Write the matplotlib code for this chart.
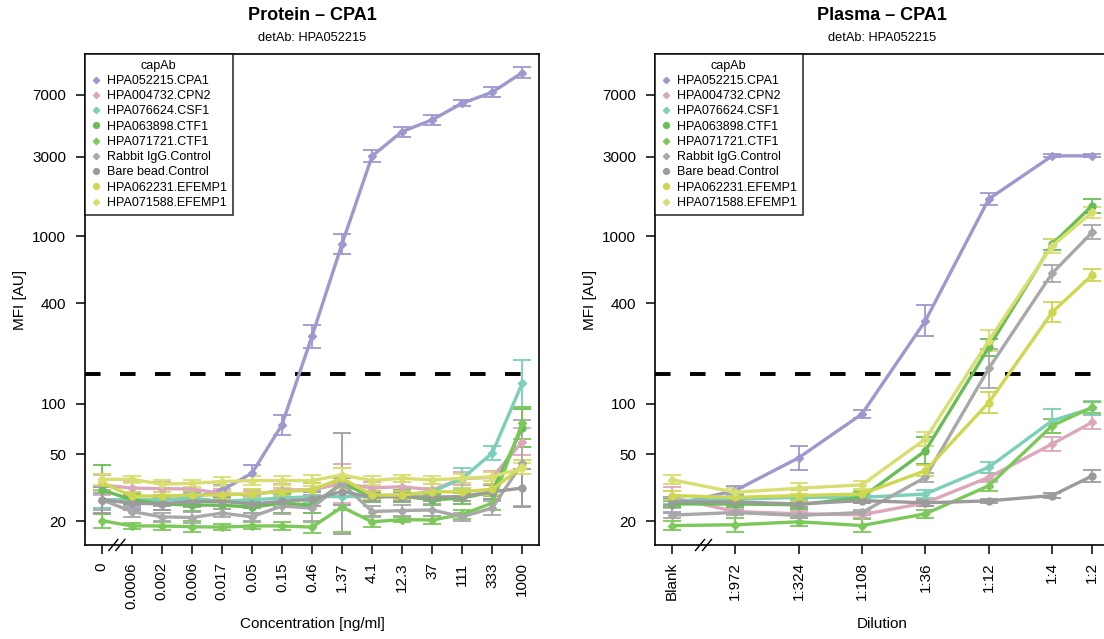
import numpy as np
import matplotlib
matplotlib.use("Agg")
import matplotlib.pyplot as plt
from matplotlib.lines import Line2D

plt.rcParams['font.family'] = ['Liberation Sans', 'DejaVu Sans']

# capture antibodies (legend order), colours and marker shapes
cap_abs = ["HPA052215.CPA1", "HPA004732.CPN2", "HPA076624.CSF1", "HPA063898.CTF1",
           "HPA071721.CTF1", "Rabbit IgG.Control", "Bare bead.Control",
           "HPA062231.EFEMP1", "HPA071588.EFEMP1"]
colors = ["#9d98ce", "#dda7bb", "#7ccfb8", "#68be54", "#7cc85a",
          "#a8a8a8", "#9b9b9b", "#cdd850", "#d8df70"]
markers = ["D", "D", "D", "o", "D", "D", "o", "o", "D"]

# protein dilution series
conc = [0, 0.000627, 0.00188, 0.00565, 0.0169, 0.0508, 0.152, 0.457,
        1.37, 4.12, 12.3, 37.0, 111, 333, 1000]
conc_labels = ["0", "0.0006", "0.002", "0.006", "0.017", "0.05", "0.15", "0.46",
               "1.37", "4.1", "12.3", "37", "111", "333", "1000"]

prot_cpa1 = [26.5, 26, 26.5, 27.5, 30.5, 38.6, 75, 254, 902, 3020, 4230, 4970, 6240, 7260, 9510]
prot_cpn2 = [32.8, 31.5, 31.2, 31.1, 29.2, 28.6, 30.7, 30.7, 33.5, 31.5, 32.1, 30.7, 35.9, 36.4, 59.6]
prot_csf1 = [26.8, 26.8, 26.8, 27.4, 26.2, 26.8, 27.4, 28, 28, 28, 28.6, 29.9, 35.9, 50.8, 133]
prot_ctf1a = [30.7, 26.8, 25.3, 24.9, 24.9, 24.2, 25.6, 24.9, 33.6, 28, 28.2, 26.8, 27.4, 29.9, 72]
prot_ctf1b = [20.1, 18.7, 18.7, 18.5, 18.4, 18.7, 18.7, 18.4, 24.2, 19.8, 20.4, 20.3, 21.9, 25.6, 76.8]
prot_rabbit = [26.8, 22.8, 21.2, 21.0, 22.3, 21.2, 24.6, 23.9, 33.6, 22.8, 23.1, 23.3, 21.2, 23.9, 44.3]
prot_bare = [26.8, 25.6, 25.3, 26.2, 26.2, 25.3, 26.2, 27, 30, 27.8, 28, 27.8, 28, 29.9, 31.5]
prot_ef1 = [34, 28.2, 28.2, 28.6, 28.6, 29.2, 29.9, 30.7, 36, 28.6, 28.6, 29.9, 29.9, 31, 42]
prot_ef2 = [35.5, 35.5, 33.2, 33.6, 34.4, 34.9, 34.9, 34.9, 37.7, 34.9, 36, 35.2, 36, 36.8, 41.3]

# error bars as geometric (multiplicative) spread
prot_cpa1_f = [1.1, 1.08, 1.08, 1.08, 1.08, 1.12, 1.15, 1.17, 1.15, 1.09, 1.07, 1.07, 1.04, 1.07, 1.08]
prot_cpn2_f = [1.15, 1.1, 1.1, 1.08, 1.06, 1.06, 1.08, 1.1, 1.3, 1.08, 1.07, 1.08, 1.1, 1.1, 1.2]
prot_csf1_f = [1.12, 1.06, 1.06, 1.06, 1.06, 1.06, 1.06, 1.08, 1.2, 1.06, 1.06, 1.06, 1.15, 1.1, 1.38]
prot_ctf1a_f = [1.4, 1.08, 1.08, 1.08, 1.06, 1.08, 1.15, 1.12, 2.0, 1.08, 1.08, 1.08, 1.08, 1.1, 1.3]
prot_ctf1b_f = [1.1, 1.04, 1.06, 1.08, 1.04, 1.05, 1.06, 1.08, 1.4, 1.08, 1.04, 1.06, 1.06, 1.1, 1.25]
prot_rabbit_f = [1.15, 1.08, 1.06, 1.08, 1.06, 1.06, 1.12, 1.2, 2.0, 1.08, 1.08, 1.08, 1.06, 1.1, 1.8]
prot_bare_f = [1.2, 1.1, 1.08, 1.08, 1.06, 1.06, 1.08, 1.1, 1.2, 1.06, 1.06, 1.06, 1.06, 1.1, 1.3]
prot_ef1_f = [1.12, 1.06, 1.06, 1.06, 1.06, 1.06, 1.06, 1.1, 1.15, 1.06, 1.06, 1.06, 1.06, 1.08, 1.1]
prot_ef2_f = [1.08, 1.05, 1.06, 1.05, 1.06, 1.06, 1.06, 1.08, 1.1, 1.06, 1.05, 1.06, 1.06, 1.06, 1.08]

# plasma dilution series (0 = blank)
dil = [0, 972, 324, 108, 36, 12, 4, 2]
dil_labels = ["Blank", "1:972", "1:324", "1:108", "1:36", "1:12", "1:4", "1:2"]

plas_cpa1 = [25, 30.4, 47.7, 87.2, 314, 1675, 3030, 3030]
plas_cpn2 = [27.7, 22.8, 22.1, 21.8, 25.7, 36.5, 57.7, 77.8]
plas_csf1 = [26.4, 27, 27.7, 27.7, 29, 41.9, 79.5, 94.3]
plas_ctf1a = [25.3, 25.3, 25, 27.7, 52.6, 218, 900, 1527]
plas_ctf1b = [18.8, 19, 19.8, 18.8, 22.1, 32.5, 74.2, 95.6]
plas_rabbit = [21.7, 22.5, 21.6, 22.5, 36.5, 163, 603, 1059]
plas_bare = [26.1, 26, 25.3, 26.5, 25.7, 26.4, 28.4, 37.2]
plas_ef1 = [28.4, 27.7, 28.4, 29, 40, 102, 353, 589]
plas_ef2 = [35.3, 29.7, 31.4, 32.9, 61.8, 239, 881, 1393]

plas_cpa1_f = [1.12, 1.06, 1.18, 1.06, 1.24, 1.08, 1.02, 1.02]
plas_cpn2_f = [1.15, 1.04, 1.04, 1.04, 1.04, 1.06, 1.1, 1.1]
plas_csf1_f = [1.04, 1.04, 1.04, 1.04, 1.05, 1.08, 1.18, 1.1]
plas_ctf1a_f = [1.04, 1.04, 1.06, 1.08, 1.2, 1.12, 1.08, 1.1]
plas_ctf1b_f = [1.06, 1.1, 1.06, 1.1, 1.06, 1.08, 1.1, 1.08]
plas_rabbit_f = [1.04, 1.04, 1.04, 1.04, 1.06, 1.3, 1.12, 1.1]
plas_bare_f = [1.04, 1.04, 1.04, 1.04, 1.04, 1.03, 1.03, 1.08]
plas_ef1_f = [1.06, 1.06, 1.08, 1.06, 1.08, 1.15, 1.15, 1.08]
plas_ef2_f = [1.06, 1.06, 1.08, 1.06, 1.1, 1.15, 1.1, 1.08]

cutoff = 150
yticks = [20, 50, 100, 400, 1000, 3000, 7000]

prot_series = [prot_cpa1, prot_cpn2, prot_csf1, prot_ctf1a, prot_ctf1b,
               prot_rabbit, prot_bare, prot_ef1, prot_ef2]
prot_err = [prot_cpa1_f, prot_cpn2_f, prot_csf1_f, prot_ctf1a_f, prot_ctf1b_f,
            prot_rabbit_f, prot_bare_f, prot_ef1_f, prot_ef2_f]
plas_series = [plas_cpa1, plas_cpn2, plas_csf1, plas_ctf1a, plas_ctf1b,
               plas_rabbit, plas_bare, plas_ef1, plas_ef2]
plas_err = [plas_cpa1_f, plas_cpn2_f, plas_csf1_f, plas_ctf1a_f, plas_ctf1b_f,
            plas_rabbit_f, plas_bare_f, plas_ef1_f, plas_ef2_f]

# log positions, zero / blank placed one 3-fold step below the lowest value
c = np.array(conc, dtype=float)
x_prot = np.log10(np.where(c > 0, c, c[1] / 3))
d = np.array(dil, dtype=float)
frac = np.where(d > 0, 1 / np.where(d > 0, d, 1), 0)
x_plas = np.log10(np.where(frac > 0, frac, frac[1] / 3))

W, H = 1104, 639
fig = plt.figure(figsize=(W / 100, H / 100), dpi=100)
ax1 = fig.add_axes([85 / W, 1 - 545 / H, 454 / W, 491 / H])
ax2 = fig.add_axes([655 / W, 1 - 545 / H, 454 / W, 491 / H])


def draw_panel(ax, xs, series, errs, labels, cx, title, xlabel):
    ax.axhline(cutoff, color="black", lw=2.8, dashes=(4, 5), zorder=1)
    for vals, f, col, mk in zip(series, errs, colors, markers):
        v = np.array(vals)
        f = np.array(f)
        ax.errorbar(xs, v, yerr=[v - v / f, v * f - v], color=col, lw=2.4,
                    marker=mk, ms=3.8 if mk == "D" else 5, elinewidth=1.3,
                    capsize=6.5, capthick=1.3, zorder=2)
    ax.set_yscale("log")
    ax.set_ylim(14.39, 12290)
    ax.set_yticks(yticks)
    ax.set_yticklabels([str(t) for t in yticks])
    ax.minorticks_off()
    span = xs[-1] - xs[0]
    ax.set_xlim(xs[0] - 0.04 * span, xs[-1] + 0.04 * span)
    ax.set_xticks(xs)
    ax.set_xticklabels(labels, rotation=90)
    ax.tick_params(direction="out", length=6.5, width=1.1, labelsize=11, pad=7)
    ax.tick_params(axis="x", pad=6)
    for s in ax.spines.values():
        s.set_linewidth(1.2)

    # axis break marks between the zero point and the first dilution
    xb = (xs[0] + xs[1]) / 2
    xb_ax = (xb - ax.get_xlim()[0]) / (ax.get_xlim()[1] - ax.get_xlim()[0])
    dx, dy = 4.5 / 454, 5.5 / 491
    for off in (-3.5 / 454, 3.5 / 454):
        ax.plot([xb_ax + off - dx, xb_ax + off + dx], [-dy, dy], color="black",
                lw=1.0, transform=ax.transAxes, clip_on=False, zorder=5)

    handles = [Line2D([], [], color=col, marker=mk, ls="none",
                      ms=3.2 if mk == "D" else 4.2)
               for col, mk in zip(colors, markers)]
    leg = ax.legend(handles, cap_abs, title="capAb", loc="upper left",
                    borderaxespad=0, fontsize=9, title_fontsize=9,
                    frameon=True, fancybox=False, handlelength=0.8,
                    handletextpad=0.5, labelspacing=0.26, borderpad=0.45)
    leg.get_frame().set_edgecolor("black")
    leg.get_frame().set_linewidth(1.2)

    fig.text(cx / W, 1 - 15 / H, title, ha="center", va="center",
             fontsize=13, fontweight="bold")
    fig.text(cx / W, 1 - 38 / H, "detAb: HPA052215", ha="center", va="center",
             fontsize=9.2)
    fig.text(cx / W, 1 - 624 / H, xlabel, ha="center", va="center", fontsize=11)
    fig.text((cx - 292) / W, 1 - 300 / H, "MFI [AU]", ha="center", va="center",
             rotation=90, fontsize=11)


draw_panel(ax1, x_prot, prot_series, prot_err, conc_labels, 312,
           "Protein \u2013 CPA1", "Concentration [ng/ml]")
draw_panel(ax2, x_plas, plas_series, plas_err, dil_labels, 882,
           "Plasma \u2013 CPA1", "Dilution")

fig.savefig("out.png", dpi=100)
